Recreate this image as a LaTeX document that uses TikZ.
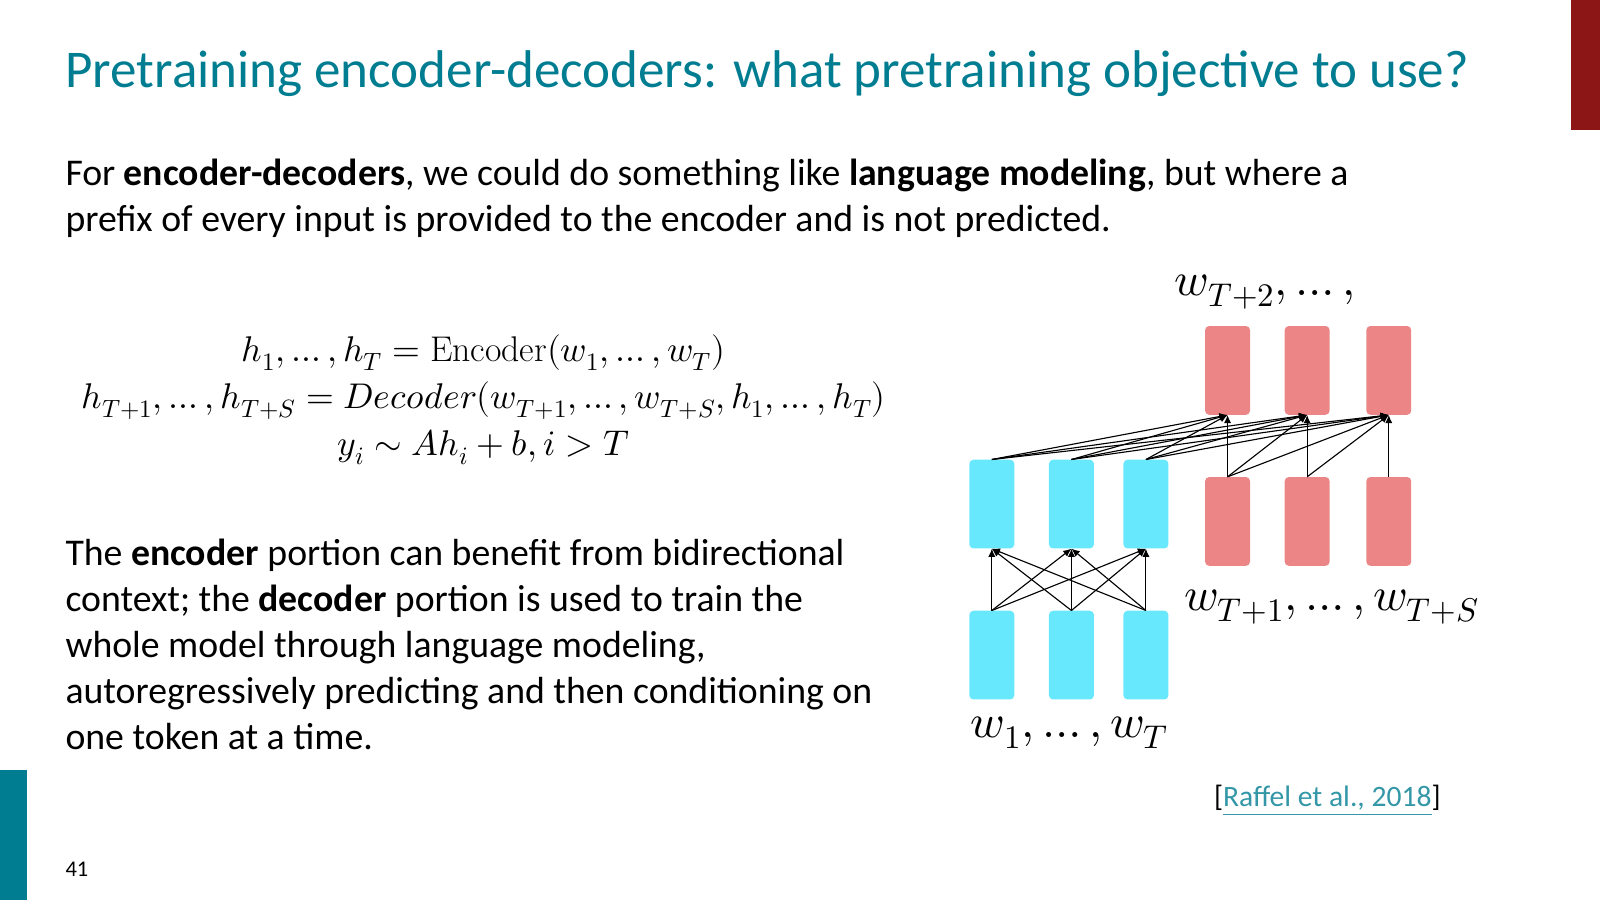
\documentclass[tikz,border=0pt]{standalone}
\usepackage{fontspec}
\usepackage{unicode-math}
\setmainfont{Carlito}
\setmathfont{Latin Modern Math}
\setmathrm{Latin Modern Roman}
\usetikzlibrary{positioning,calc,arrows.meta}
\definecolor{titleteal}{RGB}{0,125,145}
\definecolor{encblue}{RGB}{104,232,252}
\definecolor{decred}{RGB}{236,134,134}
\definecolor{barred}{RGB}{140,22,22}
\begin{document}
\begin{tikzpicture}[x=1pt,y=-1pt,
        encsty/.style={
            fill=encblue, rounded corners=4pt, minimum width=44pt, minimum height=87pt,
        },
        decsty/.style={
            fill=decred, rounded corners=4pt, minimum width=44pt, minimum height=87pt,
        },
        linksty/.style={
            -{Latex[length=8pt,width=7pt]}, line width=1.1pt
        },
        txtsty/.style={
            anchor=west, align=left, font=\fontsize{37}{45}\selectfont, inner sep=0pt
        }
    ]
    \useasboundingbox (0,0) rectangle (1568,882);
    \fill[barred] (1540,0) rectangle (1568,127);
    \fill[titleteal] (0,755) rectangle (26,882);

    \node[anchor=west, text=titleteal, font=\fontsize{52}{60}\selectfont, inner sep=0pt] (title) at (64,72)
        {Pretraining encoder-decoders: what pretraining objective to use?};
    \node[txtsty, anchor=north west] (intro) at (64,156)
        {For \textbf{encoder-decoders}, we could do something like \textbf{language modeling}, but where a\\
         prefix of every input is provided to the encoder and is not predicted.};
    \node[anchor=north, align=center, inner sep=0pt, font=\fontsize{35}{46}\selectfont] (eqs) at (474,328)
        {$h_1,\ldots,h_T=\mathrm{Encoder}(w_1,\ldots,w_T)$\\
         $h_{T+1},\ldots,h_{T+S}=Decoder(w_{T+1},\ldots,w_{T+S},h_1,\ldots,h_T)$\\
         $y_i\sim Ah_i+b, i>T$};
    \node[txtsty, anchor=north west] (desc) at (64,528)
        {The \textbf{encoder} portion can benefit from bidirectional\\
         context; the \textbf{decoder} portion is used to train the\\
         whole model through language modeling,\\
         autoregressively predicting and then conditioning on\\
         one token at a time.};
    \node[anchor=west, font=\fontsize{22}{26}\selectfont, inner sep=0pt] (pagenum) at (64,852) {41};
    \node[anchor=east, font=\fontsize{29}{32}\selectfont, inner sep=0pt] (cite) at (1412,785)
        {[\textcolor{titleteal!80}{\underline{Raffel et al., 2018}}]};

    % encoder and decoder columns
    \foreach \i/\x in {1/972,2/1050,3/1123}{
        \node[encsty] at (\x,642) (encin\i) {};
        \node[encsty] at (\x,494) (encout\i) {};
    }
    \foreach \i/\x in {1/1203,2/1281,3/1361}{
        \node[decsty] at (\x,511) (decin\i) {};
        \node[decsty] at (\x,363) (decout\i) {};
    }

    \foreach \a in {1,2,3}{
        \foreach \b in {1,2,3}{
            \draw[linksty] (encin\a.north) -- (encout\b.south);
            \draw[linksty] (encout\a.north) -- (decout\b.south);
        }
    }
    \draw[linksty] (decin1.north) -- (decout1.south);
    \draw[linksty] (decin1.north) -- (decout2.south);
    \draw[linksty] (decin1.north) -- (decout3.south);
    \draw[linksty] (decin2.north) -- (decout2.south);
    \draw[linksty] (decin2.north) -- (decout3.south);
    \draw[linksty] (decin3.north) -- (decout3.south);

    \node[font=\fontsize{46}{50}\selectfont, inner sep=0pt] (wenc) at (1048,718) {$w_1,\ldots,w_T$};
    \node[font=\fontsize{46}{50}\selectfont, inner sep=0pt] (wdec) at (1305,595) {$w_{T+1},\ldots,w_{T+S}$};
    \node[font=\fontsize{46}{50}\selectfont, inner sep=0pt] (wout) at (1240,286) {$w_{T+2},\ldots,$};
\end{tikzpicture}
\end{document}
